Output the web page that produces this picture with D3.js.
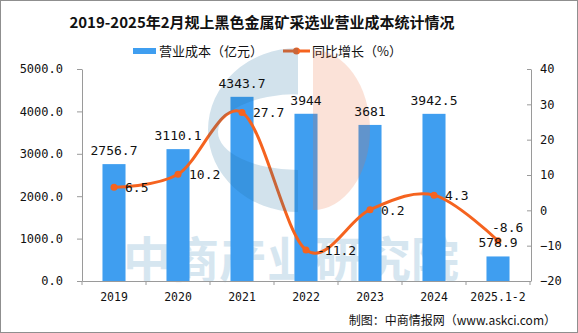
<!DOCTYPE html>
<html>
<head>
<meta charset="utf-8">
<script src="https://cdn.jsdelivr.net/npm/d3@7"></script>
<style>
  html, body { margin: 0; padding: 0; background: #fff; }
  svg { display: block; }
</style>
</head>
<body>
<svg id="chart" width="578" height="333"></svg>
<script>
// Operating cost of ferrous metal mining & dressing above designated size
const categories = ["2019", "2020", "2021", "2022", "2023", "2024", "2025.1-2"];
const costValues = [2756.7, 3110.1, 4343.7, 3944, 3681, 3942.5, 578.9];   // 亿元
const growthValues = [6.5, 10.2, 27.7, -11.2, 0.2, 4.3, -8.6];            // %
const leftTicks = [0, 1000, 2000, 3000, 4000, 5000];
const rightTicks = [-20, -10, 0, 10, 20, 30, 40];

const W = 578, H = 333;
const plot = { left: 82, right: 530, top: 69, bottom: 281 };
const BAR = "#3f9ef0", LINE = "#f5631f", AXIS = "#9a9a9a", TEXT = "#111";
const CJK = "'Noto Sans CJK SC', 'Noto Sans', sans-serif";
const MONO = "'DejaVu Sans Mono', 'Liberation Mono', monospace";

const svg = d3.select("#chart");

// frame
svg.append("rect").attr("x", 0.5).attr("y", 0.5).attr("width", W - 1).attr("height", H - 1)
  .attr("fill", "#fff").attr("stroke", "#8f8f8f");

// scales
const xCat = d3.scaleBand().domain(categories).range([plot.left, plot.right]);
const xBar = d3.scaleBand().domain(categories).range([plot.left, plot.right])
  .paddingInner(0.64).paddingOuter(0.32);
const yL = d3.scaleLinear().domain([0, 5000]).range([plot.bottom, plot.top]);
const yR = d3.scaleLinear().domain([-20, 40]).range([plot.bottom, plot.top]);
const cx = c => xCat(c) + xCat.bandwidth() / 2;

// watermark lettering (sits behind the bars)
svg.append("text")
  .attr("x", 123).attr("y", 277)
  .attr("font-family", CJK).attr("font-weight", 700).attr("font-size", 48)
  .attr("fill", "#d6e6f0")
  .text("中商产业研究院");

// title
svg.append("text")
  .attr("x", 262).attr("y", 28).attr("text-anchor", "middle")
  .attr("font-family", CJK).attr("font-weight", 700).attr("font-size", 15)
  .attr("fill", TEXT)
  .text("2019-2025年2月规上黑色金属矿采选业营业成本统计情况");

// legend
const lg = svg.append("g");
lg.append("rect").attr("x", 133).attr("y", 48).attr("width", 23).attr("height", 6).attr("fill", BAR);
lg.append("text").attr("x", 159).attr("y", 56).attr("font-family", CJK).attr("font-size", 13)
  .attr("fill", TEXT).text("营业成本（亿元）");
lg.append("line").attr("x1", 283).attr("x2", 310).attr("y1", 51).attr("y2", 51)
  .attr("stroke", LINE).attr("stroke-width", 3);
lg.append("circle").attr("cx", 296.5).attr("cy", 51).attr("r", 3.5).attr("fill", LINE);
lg.append("text").attr("x", 312).attr("y", 56).attr("font-family", CJK).attr("font-size", 13)
  .attr("fill", TEXT).text("同比增长（%）");

// bars
svg.append("g").selectAll("rect").data(categories).join("rect")
  .attr("x", c => xBar(c))
  .attr("width", xBar.bandwidth())
  .attr("y", (c, i) => yL(costValues[i]))
  .attr("height", (c, i) => yL(0) - yL(costValues[i]))
  .attr("fill", BAR);

// axes
function styleAxis(g) {
  g.selectAll("path, line").attr("stroke", AXIS);
  g.selectAll("text").attr("fill", TEXT);
}
svg.append("g").attr("transform", `translate(${plot.left},0)`)
  .call(d3.axisLeft(yL).tickValues(leftTicks).tickFormat(d => d.toFixed(1))
    .tickSize(5).tickSizeOuter(0).tickPadding(14))
  .attr("font-family", MONO).attr("font-size", 12)
  .call(styleAxis);

svg.append("g").attr("transform", `translate(${plot.right + 1},0)`)
  .call(d3.axisRight(yR).tickValues(rightTicks).tickFormat(d3.format("d"))
    .tickSize(-4).tickSizeOuter(0).tickPadding(9))
  .attr("font-family", MONO).attr("font-size", 12)
  .call(g => g.selectAll("text").text(d => d < 0 ? "\u2212" + Math.abs(d) : d))
  .call(styleAxis);

const xAxis = svg.append("g").attr("transform", `translate(0,${plot.bottom})`)
  .call(d3.axisBottom(xCat).tickSize(0).tickPadding(12).tickSizeOuter(0))
  .attr("font-family", MONO).attr("font-size", 11.5)
  .call(styleAxis);
// category boundary ticks
const bounds = categories.map(c => xCat(c)).concat([xCat.range()[1]]);
xAxis.append("g").selectAll("line").data(bounds).join("line")
  .attr("x1", d => d).attr("x2", d => d).attr("y1", 0).attr("y2", 4)
  .attr("stroke", AXIS);

// growth line
const pts = categories.map((c, i) => [cx(c), yR(growthValues[i])]);
svg.append("path")
  .attr("d", d3.line().curve(d3.curveCardinal.tension(0))(pts))
  .attr("fill", "none").attr("stroke", LINE).attr("stroke-width", 3)
  .attr("stroke-linejoin", "round");
svg.append("g").selectAll("circle").data(pts).join("circle")
  .attr("cx", d => d[0]).attr("cy", d => d[1]).attr("r", 3.5).attr("fill", LINE);

// watermark logo, washed over the plot
const logo = svg.append("g");
logo.append("path")
  .attr("d", "M298,48 A90,82 0 0 0 298,212 Z M298,94 A80,38 0 0 0 298,170 Z")
  .attr("fill-rule", "evenodd").attr("fill", "rgb(30,110,160)").attr("opacity", 0.2);
logo.append("path")
  .attr("d", "M313,50 A57,80 0 0 1 313,210 Z")
  .attr("fill", "rgb(235,110,60)").attr("opacity", 0.2);

// bar value labels
svg.append("g").selectAll("text").data(categories).join("text")
  .attr("x", c => cx(c))
  .attr("y", (c, i) => yL(costValues[i]) - 9)
  .attr("text-anchor", "middle")
  .attr("font-family", MONO).attr("font-size", 13).attr("fill", TEXT)
  .text((c, i) => costValues[i]);

// growth labels: to the right of each point, the final one sits above it
const last = categories.length - 1;
svg.append("g").selectAll("text").data(pts).join("text")
  .attr("x", (d, i) => i === last ? d[0] - 6 : d[0] + 11)
  .attr("y", (d, i) => i === last ? d[1] - 9 : d[1] + 5)
  .attr("font-family", MONO).attr("font-size", 13).attr("fill", TEXT)
  .text((d, i) => growthValues[i]);

// source note
svg.append("text")
  .attr("x", 556).attr("y", 325).attr("text-anchor", "end")
  .attr("font-family", CJK).attr("font-size", 12).attr("fill", TEXT)
  .text("制图：中商情报网（www.askci.com）");
</script>
</body>
</html>
